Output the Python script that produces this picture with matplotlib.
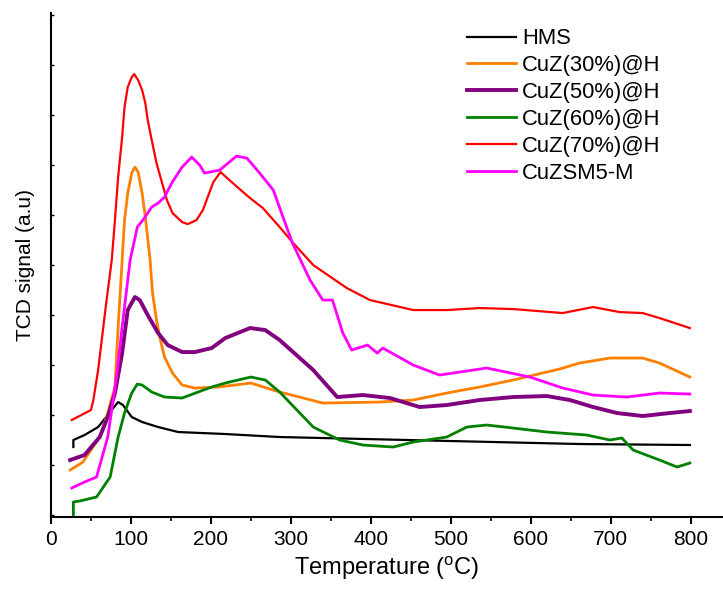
import numpy as np
from matplotlib import pyplot as plt

plt.rcParams['font.family'] = ['Liberation Sans', 'DejaVu Sans']

# TPR traces (temperature in C, signal in a.u.)
hms_t = [28, 28, 42, 59, 74, 84, 90, 101, 114, 134, 159, 218, 286, 661, 799]
hms_y = [70, 77, 82, 90, 105, 115, 112, 100, 95, 90, 85, 83, 80, 73, 72]

cuz30_t = [24, 40, 61, 71, 80, 84, 89, 92, 96, 101, 105, 109, 114, 118, 124, 127, 132, 136,
           142, 152, 164, 180, 209, 250, 286, 340, 411, 453, 495, 536, 578, 620, 636, 661,
           699, 740, 761, 799]
cuz30_y = [47, 55, 80, 104, 130, 190, 257, 297, 324, 344, 350, 345, 324, 300, 257, 224, 197, 180,
           160, 144, 132, 129, 130, 134, 125, 114, 115, 117, 124, 130, 137, 145, 148, 154,
           159, 159, 154, 140]

cuz50_t = [24, 42, 61, 71, 80, 89, 96, 105, 111, 121, 134, 146, 164, 180, 201, 218, 249, 268,
           286, 328, 358, 390, 424, 461, 495, 536, 578, 620, 649, 678, 708, 740, 774, 799]
cuz50_y = [57, 62, 80, 100, 124, 164, 207, 220, 217, 202, 184, 172, 165, 165, 169, 179, 189, 187,
           177, 147, 120, 122, 119, 110, 112, 117, 120, 121, 117, 110, 104, 101, 104, 106]

cuz60_t = [28, 28, 36, 57, 74, 84, 92, 101, 108, 114, 126, 142, 164, 184, 201, 218, 250, 268,
           286, 328, 361, 390, 428, 453, 495, 520, 545, 578, 620, 670, 699, 714, 728, 761,
           783, 799]
cuz60_y = [2, 15, 16, 20, 40, 80, 104, 124, 133, 132, 125, 120, 119, 125, 130, 134, 140, 137,
           125, 90, 77, 72, 70, 75, 80, 90, 92, 89, 85, 82, 77, 79, 67, 57,
           50, 54]

cuz70_t = [26, 50, 53, 59, 68, 76, 80, 84, 89, 92, 96, 101, 104, 109, 114, 118, 121, 126,
           132, 139, 145, 152, 164, 171, 182, 190, 203, 212, 233, 249, 265, 286, 303, 328,
           370, 399, 453, 495, 536, 578, 640, 678, 711, 740, 761, 799]
cuz70_y = [97, 107, 117, 147, 207, 257, 297, 340, 380, 410, 430, 440, 443, 437, 427, 414, 397, 377,
           354, 334, 317, 304, 295, 293, 297, 307, 335, 345, 330, 319, 309, 290, 274, 252,
           229, 217, 207, 207, 209, 208, 204, 210, 205, 204, 199, 189]

zsm5_t = [26, 42, 57, 71, 76, 82, 89, 99, 108, 115, 126, 134, 142, 151, 164, 176, 186, 192,
          211, 232, 245, 261, 278, 302, 324, 340, 352, 365, 376, 396, 408, 415, 453, 486,
          545, 599, 640, 678, 720, 761, 799]
zsm5_y = [29, 35, 40, 80, 107, 140, 190, 257, 290, 297, 310, 314, 320, 334, 350, 360, 352, 344,
          347, 361, 359, 344, 327, 274, 237, 217, 217, 184, 167, 172, 164, 169, 152, 142,
          149, 140, 129, 122, 120, 124, 123]

series = [
    ('HMS', hms_t, hms_y, 'black', 1.6),
    ('CuZ(30%)@H', cuz30_t, cuz30_y, '#FF8000', 2.0),
    ('CuZ(50%)@H', cuz50_t, cuz50_y, '#800080', 2.8),
    ('CuZ(60%)@H', cuz60_t, cuz60_y, '#008000', 2.0),
    ('CuZ(70%)@H', cuz70_t, cuz70_y, '#FF0000', 1.6),
    ('CuZSM5-M', zsm5_t, zsm5_y, '#FF00FF', 2.0),
]

fig = plt.figure(figsize=(7.23, 5.97), dpi=100)
ax = fig.add_axes([0.0705, 0.134, 0.929, 0.844])

for name, t, y, color, lw in series:
    ax.plot(t, y, color=color, lw=lw, label=name)

ax.set_xlim(0, 840)
ax.set_ylim(0, 504)
ax.set_xticks(np.arange(0, 801, 100))
ax.set_xticks(np.arange(50, 800, 100), minor=True)
ax.set_yticks(np.arange(2, 504, 50))
ax.set_yticklabels([])
ax.tick_params(axis='x', direction='out', length=5, width=1.5, labelsize=15, pad=4)
ax.tick_params(axis='x', which='minor', direction='out', length=3, width=1.2)
ax.tick_params(axis='y', direction='in', length=2, width=1)

for side in ['top', 'right']:
    ax.spines[side].set_visible(False)
for side in ['left', 'bottom']:
    ax.spines[side].set_linewidth(1.5)

ax.set_xlabel('Temperature ($^{\\mathregular{o}}$C)', fontsize=17, labelpad=4)
ax.set_ylabel('TCD signal (a.u)', fontsize=15, labelpad=8)

ax.legend(loc='upper left', bbox_to_anchor=(0.62, 0.97), frameon=False, fontsize=15.8,
          handlelength=2.2, handletextpad=0.3, labelspacing=0.27, borderaxespad=0,
          borderpad=0)

fig.savefig('out.png', dpi=100)
